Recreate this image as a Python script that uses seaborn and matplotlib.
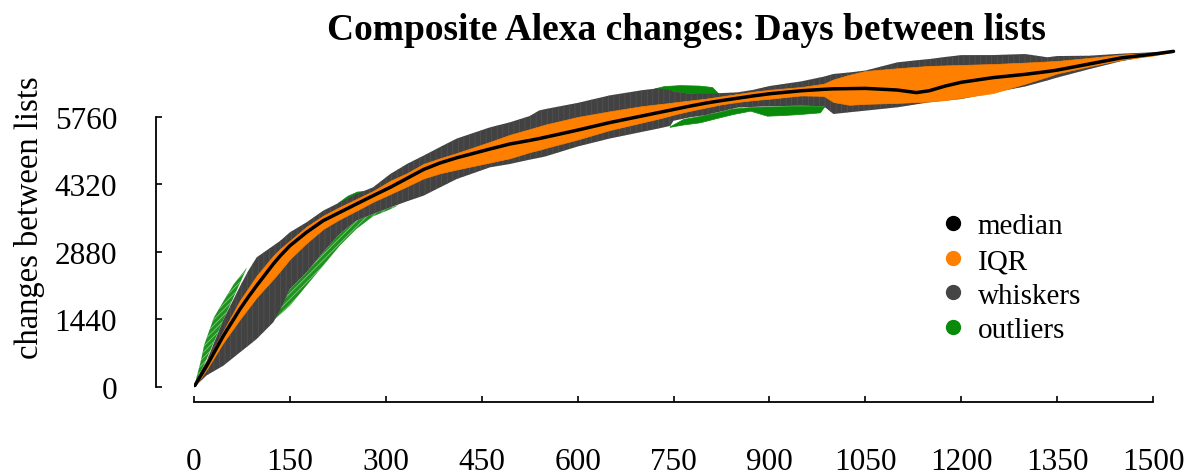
import numpy as np
import pandas as pd
import matplotlib
matplotlib.use("Agg")
import matplotlib.pyplot as plt
from matplotlib.lines import Line2D
import seaborn as sns

# ---------------- data ----------------
days = [0, 10, 20, 46, 72, 85, 98, 124, 135, 150, 176, 202, 228, 254, 280, 307,
        333, 359, 385, 411, 463, 494, 525, 540, 550, 600, 650, 700, 725, 745, 750,
        775, 800, 825, 850, 875, 900, 950, 985, 1000, 1025, 1050, 1100, 1130, 1150,
        1175, 1200, 1250, 1300, 1335, 1350, 1400, 1450, 1500, 1532]

median = [0, 230, 455, 1095, 1664, 1920, 2162, 2624, 2800, 3014, 3300, 3548, 3726,
          3904, 4081, 4260, 4450, 4640, 4780, 4890, 5077, 5184, 5260, 5300, 5330,
          5480, 5640, 5780, 5850, 5905, 5920, 5990, 6055, 6110, 6160, 6210, 6255,
          6320, 6350, 6360, 6365, 6370, 6335, 6280, 6320, 6420, 6500, 6600, 6670,
          6730, 6760, 6890, 7020, 7100, 7160]

iqr_lo = [0, 180, 380, 953, 1450, 1680, 1913, 2304, 2480, 2730, 3070, 3370, 3580,
          3761, 3950, 4117, 4280, 4450, 4560, 4640, 4790, 4880, 5010, 5060, 5100,
          5280, 5480, 5640, 5720, 5790, 5810, 5890, 5960, 6030, 6080, 6120, 6150,
          6220, 6210, 6080, 6020, 6040, 6060, 6080, 6090, 6120, 6170, 6270, 6470,
          6620, 6690, 6840, 6980, 7070, 7150]
iqr_hi = [0, 280, 540, 1201, 1850, 2110, 2374, 2801, 2950, 3122, 3420, 3654, 3840,
          4010, 4180, 4400, 4560, 4760, 4880, 4990, 5230, 5380, 5500, 5560, 5600,
          5760, 5880, 5990, 6030, 6060, 6070, 6110, 6150, 6200, 6250, 6300, 6340,
          6400, 6470, 6560, 6660, 6740, 6800, 6830, 6850, 6860, 6870, 6890, 6920,
          6945, 6955, 7020, 7090, 7130, 7170]

whisk_lo = [0, 120, 250, 455, 740, 880, 1024, 1380, 1650, 2091, 2446, 2873, 3264,
            3548, 3690, 3830, 3960, 4081, 4260, 4437, 4686, 4757, 4850, 4890, 4920,
            5130, 5300, 5440, 5510, 5570, 5680, 5750, 5800, 5880, 5960, 5975, 5990,
            6000, 5990, 5824, 5860, 5895, 5966, 6030, 6073, 6110, 6143, 6280, 6410,
            6540, 6600, 6780, 6950, 7070, 7155]
whisk_hi = [0, 320, 560, 1436, 2150, 2480, 2766, 3014, 3120, 3300, 3513, 3761, 3939,
            4117, 4259, 4544, 4757, 4935, 5120, 5300, 5539, 5646, 5780, 5900, 5930,
            6060, 6220, 6330, 6370, 6330, 6300, 6260, 6250, 6270, 6285, 6340, 6420,
            6520, 6620, 6677, 6710, 6750, 6925, 6970, 6996, 7040, 7080, 7081, 7103,
            7033, 7060, 7067, 7110, 7140, 7165]

# outlier regions: days, inner boundary (whisker side), outer boundary
out_ul_days = [0, 10, 16, 31, 46, 62, 83]
out_ul_in = [0, 320, 476, 953, 1436, 1913, 2553]
out_ul_out = [0, 520, 900, 1480, 1830, 2190, 2553]

out_us_days = [225, 240, 255, 265]
out_us_in = [3930, 4020, 4120, 4180]
out_us_out = [3930, 4080, 4170, 4180]

out_ll_days = [126, 150, 176, 202, 228, 254, 280, 307, 320]
out_ll_in = [1440, 2091, 2446, 2873, 3264, 3548, 3690, 3830, 3880]
out_ll_out = [1440, 1734, 2162, 2588, 3014, 3370, 3640, 3790, 3880]

out_um_days = [720, 735, 760, 790, 810, 820]
out_um_in = [6370, 6340, 6290, 6255, 6260, 6265]
out_um_out = [6370, 6420, 6440, 6430, 6400, 6265]

out_lm_days = [744, 765, 791, 818, 843, 870, 896, 920, 948, 979, 986]
out_lm_in = [5560, 5717, 5780, 5859, 5940, 5970, 5985, 5990, 6000, 5995, 5990]
out_lm_out = [5550, 5600, 5646, 5740, 5824, 5895, 5788, 5800, 5824, 5859, 5990]

x_ticks = [0, 150, 300, 450, 600, 750, 900, 1050, 1200, 1350, 1500]
y_ticks = [0, 1440, 2880, 4320, 5760]
legend_labels = ["median", "IQR", "whiskers", "outliers"]

title = "Composite Alexa changes: Days between lists"
ylabel = "changes between lists"

# ---------------- styling ----------------
sns.set_theme(style="ticks")
plt.rcParams["font.family"] = ["Liberation Serif", "DejaVu Serif"]
plt.rcParams["text.color"] = "black"
plt.rcParams["axes.labelcolor"] = "black"
plt.rcParams["xtick.color"] = "black"
plt.rcParams["ytick.color"] = "black"
plt.rcParams["hatch.linewidth"] = 0.5

C_MED = "#000000"
C_IQR = "#ff8000"
C_WHI = "#454545"
C_OUT = "#0a8a0a"

df = pd.DataFrame({"day": days, "median": median, "iqr_lo": iqr_lo,
                   "iqr_hi": iqr_hi, "whisk_lo": whisk_lo, "whisk_hi": whisk_hi})

fig = plt.figure(figsize=(11.89, 4.77), dpi=100)
ax = fig.add_axes([0.16316, 0.18658, 0.8281, 0.7128])

regions = [(out_ul_days, out_ul_in, out_ul_out, True),
           (out_us_days, out_us_in, out_us_out, False),
           (out_ll_days, out_ll_in, out_ll_out, True),
           (out_um_days, out_um_in, out_um_out, False),
           (out_lm_days, out_lm_in, out_lm_out, False)]
for d, a, b, light in regions:
    if light:
        ax.fill_between(d, a, b, facecolor="#1f921f", edgecolor="#8fd08f",
                        hatch="//////", lw=0, zorder=1)
    else:
        ax.fill_between(d, a, b, facecolor=C_OUT, lw=0.5, edgecolor=C_OUT,
                        zorder=1)

ax.fill_between(df["day"], df["whisk_lo"], df["whisk_hi"], facecolor="#424242",
                edgecolor="#555555", hatch="|||", lw=0, zorder=2)
ax.fill_between(df["day"], df["iqr_lo"], df["iqr_hi"], color=C_IQR,
                lw=0.5, zorder=3)
sns.lineplot(data=df, x="day", y="median", color=C_MED, lw=2.5, ax=ax,
             legend=False, zorder=4)

ax.set_xlim(0, 1540)
ax.set_ylim(0, 7253)
ax.set_xticks(x_ticks)
ax.set_xticklabels([str(v) for v in x_ticks])
ax.set_yticks(y_ticks)
ax.set_yticklabels([str(v) for v in y_ticks])
ax.set_xlabel("")
ax.set_ylabel(ylabel, fontsize=23.5, labelpad=7)
ax.set_title(title, fontsize=27, fontweight="bold", pad=4)

for s in ["top", "right"]:
    ax.spines[s].set_visible(False)
ax.spines["left"].set_position(("outward", 27.4))
ax.spines["left"].set_bounds(0, 5760)
ax.spines["bottom"].set_position(("outward", 10.8))
ax.spines["bottom"].set_bounds(0, 1500)
for s in ["left", "bottom"]:
    ax.spines[s].set_linewidth(1.3)
    ax.spines[s].set_color("black")

ax.tick_params(axis="both", direction="in", length=4, width=1.2,
               labelsize=22.5, colors="black")
ax.tick_params(axis="x", pad=32.5)
ax.tick_params(axis="y", pad=28)

handles = [Line2D([], [], marker="o", ls="none", color=c, markersize=10)
           for c in [C_MED, C_IQR, C_WHI, C_OUT]]
fig.legend(handles, legend_labels, loc="upper left",
           bbox_to_anchor=(938 / 1189, 1 - 214 / 477), frameon=False,
           fontsize=21, handlelength=1.0, handletextpad=0.36,
           labelspacing=0.28, borderpad=0, borderaxespad=0)

fig.savefig("out.png", dpi=100)
